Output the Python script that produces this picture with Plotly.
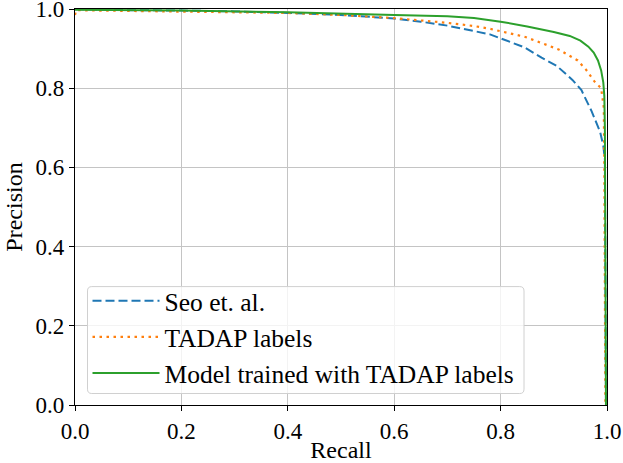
import plotly.graph_objects as go

# ---- data ----
recall_seo = [0.0, 0.05, 0.1, 0.2, 0.3, 0.4, 0.5, 0.6, 0.65, 0.7, 0.75, 0.78, 0.845,
              0.877, 0.905, 0.935, 0.952, 0.971, 0.987, 0.993, 0.996, 0.997, 0.998]
prec_seo = [1.0, 0.998, 0.997, 0.996, 0.994, 0.99, 0.985, 0.976, 0.968, 0.958, 0.945,
            0.936, 0.903, 0.877, 0.857, 0.821, 0.795, 0.742, 0.690, 0.655, 0.62,
            0.30, 0.0]

recall_tadap = [0.0, 0.002, 0.05, 0.2, 0.4, 0.5, 0.6, 0.7, 0.75, 0.78, 0.845, 0.909,
                0.945, 0.961, 0.977, 0.989, 0.994, 0.995, 0.996, 0.997]
prec_tadap = [0.985, 0.997, 0.996, 0.994, 0.99, 0.985, 0.977, 0.965, 0.957, 0.950,
              0.930, 0.898, 0.870, 0.846, 0.816, 0.800, 0.750, 0.60, 0.20, 0.0]

recall_model = [0.0, 0.1, 0.2, 0.4, 0.5, 0.6, 0.7, 0.75, 0.8, 0.85, 0.9, 0.93, 0.95,
                0.965, 0.975, 0.983, 0.989, 0.993, 0.995, 0.996, 0.997, 0.998]
prec_model = [0.998, 0.997, 0.996, 0.992, 0.988, 0.985, 0.982, 0.977, 0.968, 0.956,
              0.942, 0.932, 0.920, 0.905, 0.890, 0.870, 0.845, 0.815, 0.780, 0.700,
              0.40, 0.0]

series_names = ["Seo et. al.", "TADAP labels", "Model trained with TADAP labels"]
tick_vals = [0.0, 0.2, 0.4, 0.6, 0.8, 1.0]
tick_text = ["0.0", "0.2", "0.4", "0.6", "0.8", "1.0"]

FONT = "Liberation Serif"

fig = go.Figure()
fig.add_trace(go.Scatter(x=recall_seo, y=prec_seo, mode="lines", name=series_names[0],
                         legendgroup="a",
                         line=dict(color="#1f77b4", width=2, dash="9px,4px")))
fig.add_trace(go.Scatter(x=recall_tadap, y=prec_tadap, mode="lines", name=series_names[1],
                         legendgroup="b",
                         line=dict(color="#ff7f0e", width=2.2, dash="2.5px,4.5px")))
fig.add_trace(go.Scatter(x=recall_model, y=prec_model, mode="lines", name=series_names[2],
                         legendgroup="c",
                         line=dict(color="#2ca02c", width=2)))

axis_common = dict(
    range=[0, 1], tickvals=tick_vals, ticktext=tick_text,
    showgrid=True, gridcolor="#c4c4c4", gridwidth=1,
    showline=True, linecolor="black", linewidth=1.2, mirror=True,
    ticks="outside", ticklen=5, tickwidth=1.2, tickcolor="black",
    zeroline=False, tickfont=dict(family=FONT, size=23, color="black"),
    automargin=False, ticklabeloverflow="allow",
)

# rounded legend frame (matplotlib-style), in paper coordinates
bx0, bx1, by0, by1 = 0.0235, 0.844, 0.029, 0.299
rx, ry = 0.008, 0.011
frame_path = (
    f"M {bx0+rx},{by0} L {bx1-rx},{by0} Q {bx1},{by0} {bx1},{by0+ry} "
    f"L {bx1},{by1-ry} Q {bx1},{by1} {bx1-rx},{by1} "
    f"L {bx0+rx},{by1} Q {bx0},{by1} {bx0},{by1-ry} "
    f"L {bx0},{by0+ry} Q {bx0},{by0} {bx0+rx},{by0} Z"
)

fig.update_layout(
    width=623, height=463,
    margin=dict(l=75, r=16, t=9, b=58),
    paper_bgcolor="white", plot_bgcolor="white",
    font=dict(family=FONT, size=23, color="black"),
    xaxis=dict(axis_common, title=dict(text="Recall", font=dict(family=FONT, size=24), standoff=4)),
    yaxis=dict(axis_common, title=dict(text="Precision", font=dict(family=FONT, size=24), standoff=6)),
    shapes=[dict(type="path", path=frame_path, xref="paper", yref="paper",
                 fillcolor="rgba(255,255,255,0.8)", line=dict(color="#d0d0d0", width=1),
                 layer="above")],
    legend=dict(x=0.0235, y=0.021, xanchor="left", yanchor="bottom",
                bgcolor="rgba(0,0,0,0)", borderwidth=0,
                font=dict(family=FONT, size=25.5), tracegroupgap=0,
                itemwidth=67, traceorder="normal"),
    showlegend=True,
)

fig.write_html("out.html", config={"displayModeBar": False},
               post_script="document.body.style.margin='0px';document.body.style.overflow='hidden';")
